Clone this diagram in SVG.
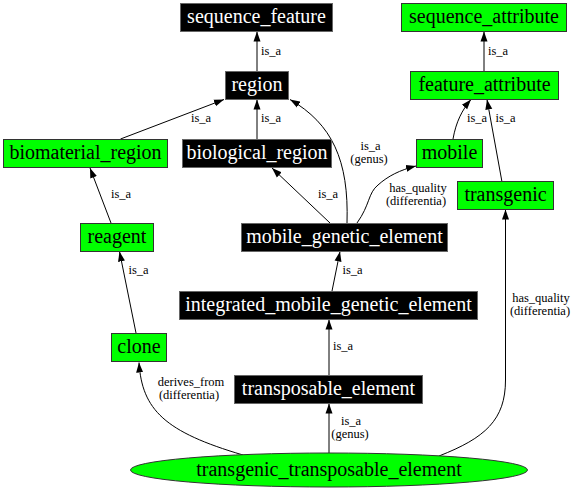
<svg xmlns="http://www.w3.org/2000/svg" width="576" height="490" viewBox="0 0 576 490">
<style>
.bn rect{fill:#000;stroke:#666;stroke-width:1}
.bn text{fill:#fff}
.gn rect,.gn ellipse{fill:#00ff00;stroke:#333;stroke-width:1}
.gn text{fill:#000}
.node text{font-size:20px;text-anchor:middle}
.edges path{fill:none;stroke:#000;stroke-width:1;marker-end:url(#ah)}
.edges text{font-size:12.5px;text-anchor:middle;fill:#000}
</style>
<defs>
<marker id="ah" markerUnits="userSpaceOnUse" markerWidth="10" markerHeight="8" refX="10" refY="4" orient="auto">
<path d="M0,0.5 L10,4 L0,7.5 z" fill="#000"/>
</marker>
</defs>
<rect width="576" height="490" fill="#fff"/>
<g class="edges" font-family="'Liberation Serif', 'DejaVu Serif', serif">
<path d="M257,71 L257,31.5"/>
<text x="271" y="55">is_a</text>
<path d="M484,71 L484,31.5"/>
<text x="498" y="55">is_a</text>
<path d="M120.5,139 L224,99.5"/>
<text x="201" y="122">is_a</text>
<path d="M257,139 L257,99.5"/>
<text x="271" y="122">is_a</text>
<path d="M347,223 C349,160 332,124 290,99.5"/>
<text x="370.5" y="150">is_a</text>
<text x="369" y="163">(genus)</text>
<path d="M330,223 L272,168"/>
<text x="328" y="198">is_a</text>
<path d="M357,223 C370,205 368,193 378,185 C388,176 400,170 416,166"/>
<text x="418" y="191.5">has_quality</text>
<text x="416" y="204.5">(differentia)</text>
<path d="M453,139 C456,122 462,110 471,99.5"/>
<text x="477" y="122">is_a</text>
<path d="M502,182 L487,99.5"/>
<text x="505.5" y="122">is_a</text>
<path d="M111,223 L90,168"/>
<text x="121" y="198">is_a</text>
<path d="M136,333 L119.5,251.5"/>
<text x="138.6" y="274">is_a</text>
<path d="M332,291 L340,251.5"/>
<text x="352.5" y="274">is_a</text>
<path d="M329,375 L329,319.5"/>
<text x="343" y="350">is_a</text>
<path d="M329,453 L329,403.5"/>
<text x="351" y="424.5">is_a</text>
<text x="350" y="437.5">(genus)</text>
<path d="M243,455 C165,432 142,410 139,362.5"/>
<text x="191" y="385.5">derives_from</text>
<text x="189" y="398.5">(differentia)</text>
<path d="M439,456 C485,438 505.5,420 505.5,380 L505.5,209.5"/>
<text x="541" y="301.5">has_quality</text>
<text x="540" y="314.5">(differentia)</text>
</g>
<g font-family="'Liberation Serif', 'DejaVu Serif', serif">
<g id="sequence_feature" class="node bn"><rect x="180.5" y="3.5" width="152" height="28"/><text x="256.5" y="23">sequence_feature</text></g>
<g id="region" class="node bn"><rect x="225.5" y="71.5" width="63" height="28"/><text x="257" y="91">region</text></g>
<g id="sequence_attribute" class="node gn"><rect x="401.5" y="3.5" width="165" height="28"/><text x="484" y="23">sequence_attribute</text></g>
<g id="feature_attribute" class="node gn"><rect x="410.5" y="71.5" width="148" height="28"/><text x="484.5" y="91">feature_attribute</text></g>
<g id="biomaterial_region" class="node gn"><rect x="3.5" y="139.5" width="164" height="28"/><text x="85.5" y="159">biomaterial_region</text></g>
<g id="biological_region" class="node bn"><rect x="182.5" y="139.5" width="149" height="28"/><text x="257" y="159">biological_region</text></g>
<g id="mobile" class="node gn"><rect x="416.5" y="139.5" width="66" height="28"/><text x="449.5" y="159">mobile</text></g>
<g id="transgenic" class="node gn"><rect x="457.5" y="181.5" width="96" height="28"/><text x="505.5" y="201">transgenic</text></g>
<g id="reagent" class="node gn"><rect x="80.5" y="223.5" width="73" height="28"/><text x="117" y="243">reagent</text></g>
<g id="mobile_genetic_element" class="node bn"><rect x="241.5" y="223.5" width="206" height="28"/><text x="344.5" y="243">mobile_genetic_element</text></g>
<g id="integrated_mobile_genetic_element" class="node bn"><rect x="179.5" y="291.5" width="298" height="28"/><text x="328.5" y="311">integrated_mobile_genetic_element</text></g>
<g id="clone" class="node gn"><rect x="111.5" y="333.5" width="55" height="28"/><text x="139" y="353">clone</text></g>
<g id="transposable_element" class="node bn"><rect x="234.5" y="375.5" width="188" height="28"/><text x="328.5" y="395">transposable_element</text></g>
<g id="transgenic_transposable_element" class="node gn"><ellipse cx="329" cy="470" rx="198.5" ry="17"/><text x="329" y="476">transgenic_transposable_element</text></g>
</g>
</svg>
